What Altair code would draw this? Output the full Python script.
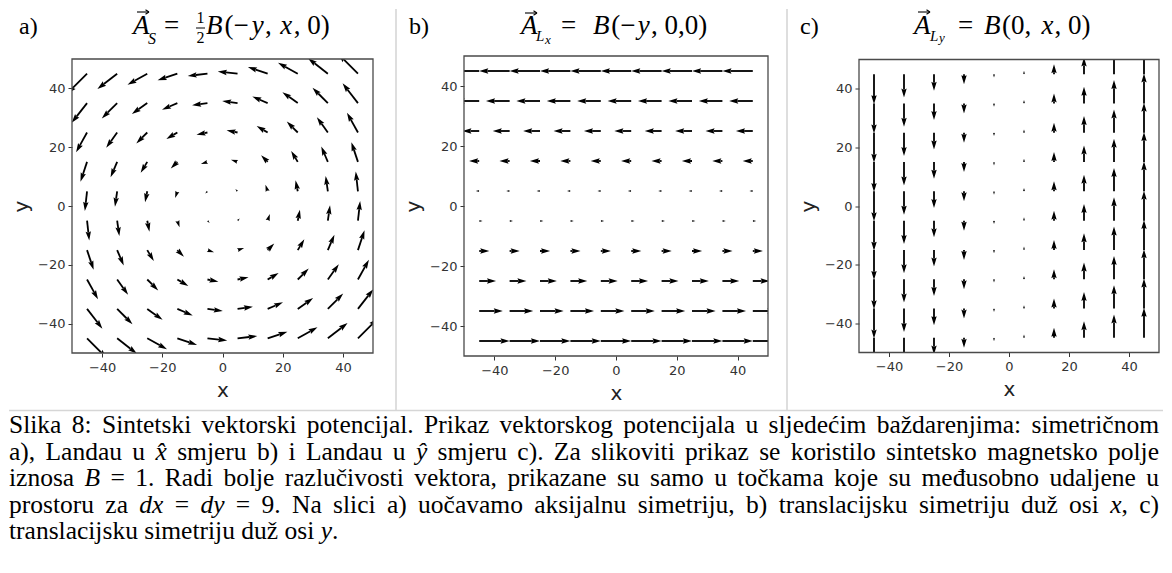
import numpy as np
import pandas as pd
import altair as alt

# ---------------- data ----------------
GRID = [-45, -35, -25, -15, -5, 5, 15, 25, 35, 45]
TICKS = [-40, -20, 0, 20, 40]

# x-component of A for each grid row (y) and y-component for each grid column (x)
A_U_BY_ROW = [22.5, 17.5, 12.5, 7.5, 2.5, -2.5, -7.5, -12.5, -17.5, -22.5]
A_V_BY_COL = [-22.5, -17.5, -12.5, -7.5, -2.5, 2.5, 7.5, 12.5, 17.5, 22.5]
B_U_BY_ROW = [45, 35, 25, 15, 5, -5, -15, -25, -35, -45]
B_V_BY_COL = [0, 0, 0, 0, 0, 0, 0, 0, 0, 0]
C_U_BY_ROW = [0, 0, 0, 0, 0, 0, 0, 0, 0, 0]
C_V_BY_COL = [-45, -35, -25, -15, -5, 5, 15, 25, 35, 45]

PANEL_LABELS = ["a)", "b)", "c)"]

CAPTION_LINES = [
    "Slika 8: Sintetski vektorski potencijal. Prikaz vektorskog potencijala u sljedećim baždarenjima: simetričnom".split(),
    ["a),", "Landau", "u", [("x\u0302", 1)], "smjeru", "b)", "i", "Landau", "u", [("y\u0302", 1)], "smjeru", "c).",
     "Za", "slikoviti", "prikaz", "se", "koristilo", "sintetsko", "magnetsko", "polje"],
    ["iznosa", [("B", 1)], "=", "1.", "Radi", "bolje", "razlučivosti", "vektora,", "prikazane", "su", "samo", "u",
     "točkama", "koje", "su", "međusobno", "udaljene", "u"],
    ["prostoru", "za", [("dx", 1)], "=", [("dy", 1)], "=", "9.", "Na", "slici", "a)", "uočavamo", "aksijalnu",
     "simetriju,", "b)", "translacijsku", "simetriju", "duž", "osi", [("x", 1), (",", 0)], "c)"],
    ["translacijsku", "simetriju", "duž", "osi", [("y", 1), (".", 0)]],
]

# ---------------- layout / style ----------------
SERIF = "Liberation Serif"
SANS = "DejaVu Sans"
BORDER = "#d6d6d6"
FRAME = "#4a4a4a"
HEAD = "M0,0L1.5,5L0.5,4.5L-0.5,4.5L-1.5,5Z"

one = pd.DataFrame({"k": [0]})


def quiver_df(u_row, v_col, W, H):
    recs = []
    for j, y in enumerate(GRID):
        for i, x in enumerate(GRID):
            recs.append({"x": x, "y": y, "u": u_row[j], "v": v_col[i]})
    df = pd.DataFrame(recs)
    mag = np.hypot(df["u"], df["v"])
    amean = mag.mean()
    w = 0.006 * W
    L = mag / (18.0 * amean) * W
    safe = np.where(mag > 0, mag, 1.0)
    ux = df["u"] / safe
    uy = df["v"] / safe
    sx = W / 100.0
    sy = H / 100.0
    df["tx"] = df["x"] + L * ux / sx
    df["ty"] = df["y"] + L * uy / sy
    neck = np.clip(L - 4.5 * w, 0, None)
    df["nx"] = df["x"] + neck * ux / sx
    df["ny"] = df["y"] + neck * uy / sy
    df["shaft"] = (L >= 5 * w).astype(int)
    sc = np.where(L >= 5 * w, w, L / 5.0)
    df["size"] = (2 * sc) ** 2
    df["angle"] = np.degrees(np.arctan2(df["u"], df["v"])) % 360
    return df, w


def txt(s, X, Y, o, size, font=SERIF, style="normal", align="left", color="black"):
    return alt.Chart(one).mark_text(
        text=s, font=font, fontSize=size, fontStyle=style, align=align,
        baseline="alphabetic", color=color
    ).encode(x=alt.value(X - o[0]), y=alt.value(Y - o[1]))


def seg(X1, Y1, X2, Y2, o, color="black", width=1.0):
    return alt.Chart(one).mark_rule(color=color, strokeWidth=width).encode(
        x=alt.value(X1 - o[0]), y=alt.value(Y1 - o[1]),
        x2=alt.value(X2 - o[0]), y2=alt.value(Y2 - o[1]))


EM_MATH = {"B": 0.611, "(": 0.333, ")": 0.333, "\u2212": 0.564, "y": 0.444, "x": 0.444,
           ",": 0.25, " ": 0.25, "0": 0.5}


def chain(segs, X0, X1, Y, o, size=27):
    ems = [sum(EM_MATH.get(c, 0.5) for c in s) for s, _ in segs]
    k = (X1 - X0) / sum(ems)
    out = []
    cum = 0.0
    for (s, it), e in zip(segs, ems):
        out.append(txt(s, X0 + cum * k, Y, o, size, style="italic" if it else "normal"))
        cum += e
    return out


def vec_arrow(X, Y, o):
    # small vector arrow over a symbol
    return [seg(X, Y, X + 11.5, Y, o, width=1.1),
            seg(X + 8.5, Y - 2.2, X + 12, Y, o, width=1.1),
            seg(X + 8.5, Y + 2.2, X + 12, Y, o, width=1.1)]


TNR = {' ': 250, 'a': 444, 'b': 500, 'c': 444, 'd': 500, 'e': 444, 'f': 333, 'g': 500, 'h': 500,
       'i': 278, 'j': 278, 'k': 500, 'l': 278, 'm': 778, 'n': 500, 'o': 500, 'p': 500, 'q': 500,
       'r': 333, 's': 389, 't': 278, 'u': 500, 'v': 500, 'w': 722, 'x': 500, 'y': 500, 'z': 444,
       'č': 444, 'ć': 444, 'ž': 444, 'đ': 500, 'š': 389, 'S': 556, 'P': 556, 'L': 611, 'Z': 611,
       'R': 667, 'N': 722, 'B': 667, '.': 250, ',': 250, ':': 278, '(': 333, ')': 333, '=': 564,
       '\u0302': 0}
TNR_IT = {'x': 444, 'y': 444, 'd': 500, 'B': 611, '\u0302': 0}


def piece_w(s, it, fs):
    tab = TNR_IT if it else TNR
    return sum(tab.get(c, TNR.get(c, 500)) for c in s) * fs / 1000.0


def caption_marks(o, X0=8, X1=1158, base0=432, lead=26.6, fs=25.5):
    marks = []
    for li, toks in enumerate(CAPTION_LINES):
        toks = [[(t, 0)] if isinstance(t, str) else t for t in toks]
        widths = [sum(piece_w(s, it, fs) for s, it in t) for t in toks]
        space = 0.25 * fs
        nat = sum(widths) + space * (len(toks) - 1)
        if li < len(CAPTION_LINES) - 1:
            space += (X1 - X0 - nat) / (len(toks) - 1)
        X = X0
        Y = base0 + li * lead
        for t, wtok in zip(toks, widths):
            px = X
            for s, it in t:
                marks.append(txt(s, px, Y, o, fs, style="italic" if it else "normal"))
                px += piece_w(s, it, fs)
            X += wtok + space
    return marks


def panel(u_row, v_col, W, H, decos):
    df, w = quiver_df(u_row, v_col, W, H)
    xs = alt.Scale(domain=[-50, 50], nice=False, zero=False)
    ys = alt.Scale(domain=[-50, 50], nice=False, zero=False)
    xa = alt.Axis(values=TICKS, title="x", grid=False, domain=False, tickSize=4,
                  labelPadding=4, titlePadding=6)
    ya = alt.Axis(values=TICKS, title="y", grid=False, domain=False, tickSize=4,
                  labelPadding=3, titlePadding=6)
    shafts = alt.Chart(df[df["shaft"] == 1]).mark_rule(
        color="black", strokeWidth=w, strokeCap="butt", clip=True
    ).encode(x=alt.X("x:Q", scale=xs, axis=xa), y=alt.Y("y:Q", scale=ys, axis=ya),
             x2="nx:Q", y2="ny:Q")
    heads = alt.Chart(df).mark_point(
        shape=HEAD, filled=True, color="black", opacity=1, strokeWidth=0, clip=True
    ).encode(x=alt.X("tx:Q", scale=xs, axis=xa), y=alt.Y("ty:Q", scale=ys, axis=ya),
             angle=alt.Angle("angle:Q", scale=None), size=alt.Size("size:Q", scale=None))
    frame = alt.Chart(one).mark_rect(fillOpacity=0, stroke=FRAME, strokeWidth=1.3).encode(
        x=alt.value(0), x2=alt.value(W), y=alt.value(0), y2=alt.value(H))
    return alt.layer(shafts, heads, *decos, frame).properties(width=W, height=H)


# panel geometry: plot areas are centred on a common row centre
YC = 205.0
WA, HA = 301, 294
WB, HB = 304, 300
WC, HC = 300, 293
XA, XB, XC = 71, 463, 858
OA = (XA, YC - HA / 2)
OB = (XB, YC - HB / 2)
OC = (XC, YC - HC / 2)

# --- decorations of panel a (also table rules, caption, anchor)
decA = [
    alt.Chart(one).mark_rect(color="white").encode(
        x=alt.value(8 - OA[0]), x2=alt.value(9 - OA[0]), y=alt.value(8 - OA[1]), y2=alt.value(9 - OA[1])),
    seg(395, 8, 395, 409, OA, color=BORDER, width=1.6),
    seg(786, 8, 786, 409, OA, color=BORDER, width=1.6),
    seg(8, 409.5, 1162, 409.5, OA, color=BORDER, width=1.6),
    txt(PANEL_LABELS[0], 18, 33, OA, 24),
    txt("A", 132, 33, OA, 27, style="italic"),
    *vec_arrow(136, 11, OA),
    txt("S", 147, 43, OA, 16, style="italic"),
    txt("=", 163, 33, OA, 27),
    txt("1", 199.5, 22, OA, 16, align="center"),
    seg(195, 27, 204, 27, OA, width=1.0),
    txt("2", 199.5, 42, OA, 16, align="center"),
    *chain([("B", 1), ("(\u2212", 0), ("y", 1), (", ", 0), ("x", 1), (", 0)", 0)], 205, 333, 33, OA),
    *caption_marks(OA),
]

decB = [
    txt(PANEL_LABELS[1], 408, 33, OB, 24),
    txt("A", 520, 33, OB, 27, style="italic"),
    *vec_arrow(524, 12, OB),
    txt("L", 535, 40, OB, 15, style="italic"),
    txt("x", 544, 43, OB, 13, style="italic"),
    txt("=", 560, 33, OB, 27),
    *chain([("B", 1), ("(\u2212", 0), ("y", 1), (", 0,0)", 0)], 592, 712, 33, OB),
]

decC = [
    txt(PANEL_LABELS[2], 799, 33, OC, 24),
    txt("A", 913, 33, OC, 27, style="italic"),
    *vec_arrow(917, 11, OC),
    txt("L", 929, 40, OC, 15, style="italic"),
    txt("y", 938, 41, OC, 13, style="italic"),
    txt("=", 957, 33, OC, 27),
    *chain([("B", 1), ("(0, ", 0), ("x", 1), (", 0)", 0)], 983, 1093, 33, OC),
]

pA = panel(A_U_BY_ROW, A_V_BY_COL, WA, HA, decA)
pB = panel(B_U_BY_ROW, B_V_BY_COL, WB, HB, decB)
pC = panel(C_U_BY_ROW, C_V_BY_COL, WC, HC, decC)

chart = alt.hconcat(
    pA, pB, pC, spacing=XB - (XA + WA), bounds="flush", center=True
).properties(padding=0).configure_view(strokeOpacity=0).configure_axis(
    labelFont=SANS, labelFontSize=13, labelColor="#333333", tickColor="#333333", tickWidth=1,
    titleFont=SANS, titleFontSize=20, titleFontWeight="normal", titleColor="#222222"
)

chart.save("out.html", embed_options={"renderer": "svg", "actions": False})
